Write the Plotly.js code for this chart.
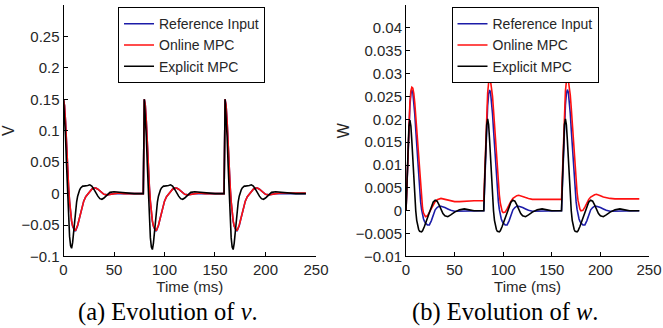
<!DOCTYPE html>
<html><head><meta charset="utf-8">
<script src="https://cdn.plot.ly/plotly-3.0.1.min.js"></script>
<style>html,body{margin:0;padding:0;background:#fff}#chart{width:663px;height:328px}</style>
</head><body><div id="chart"></div>
<script>
// Time axis (ms)
const timeMs = [
 0,1,2,3,4,5,6,7,8,9,10,11,12,13,14,15,16,17,18,19,20,22,24,26,28,30,32,34,36,38,40,43,46,50,55,60,65,70,75,79,
 80,81,82,83,84,85,86,87,88,89,90,91,92,93,94,95,96,97,98,99,100,102,104,106,108,110,112,114,116,118,120,123,126,130,135,140,145,150,155,159,
 160,161,162,163,164,165,166,167,168,169,170,171,172,173,174,175,176,177,178,179,180,182,184,186,188,190,192,194,196,198,200,203,206,210,215,220,225,230,235,240
];
const seriesNames = ['Reference Input','Online MPC','Explicit MPC'];

// Panel (a): v
const vReference = [
 0.150,0.140,0.115,0.074,0.039,0.011,-0.013,-0.031,-0.044,-0.052,-0.057,-0.059,-0.059,-0.056,-0.051,-0.044,-0.037,-0.030,-0.023,-0.017,-0.012,-0.005,-0.001,0.003,0.007,0.009,0.009,0.007,0.004,0.001,-0.001,-0.002,-0.001,0.000,0.000,0.000,0.000,0.000,0.000,0.000,
 0.150,0.140,0.115,0.074,0.039,0.011,-0.013,-0.031,-0.044,-0.052,-0.057,-0.059,-0.059,-0.056,-0.051,-0.044,-0.037,-0.030,-0.023,-0.017,-0.012,-0.005,-0.001,0.003,0.007,0.009,0.009,0.007,0.004,0.001,-0.001,-0.002,-0.001,0.000,0.000,0.000,0.000,0.000,0.000,0.000,
 0.150,0.140,0.115,0.074,0.039,0.011,-0.013,-0.031,-0.044,-0.052,-0.057,-0.059,-0.059,-0.056,-0.051,-0.044,-0.037,-0.030,-0.023,-0.017,-0.012,-0.005,-0.001,0.003,0.007,0.009,0.009,0.007,0.004,0.001,-0.001,-0.002,-0.001,0.000,0.000,0.000,0.000,0.000,0.000,0.000
];
const vOnline = [
 0.150,0.140,0.115,0.075,0.040,0.012,-0.012,-0.030,-0.043,-0.051,-0.056,-0.058,-0.058,-0.055,-0.050,-0.044,-0.037,-0.030,-0.023,-0.017,-0.012,-0.005,-0.001,0.003,0.007,0.009,0.009,0.007,0.004,0.001,-0.001,-0.002,-0.001,0.000,0.001,0.000,0.000,0.000,0.000,0.000,
 0.150,0.140,0.115,0.075,0.040,0.012,-0.012,-0.030,-0.043,-0.051,-0.056,-0.058,-0.058,-0.055,-0.050,-0.044,-0.037,-0.030,-0.023,-0.017,-0.012,-0.005,-0.001,0.003,0.007,0.009,0.009,0.007,0.004,0.001,-0.001,-0.002,-0.001,0.000,0.001,0.000,0.000,0.000,0.000,0.000,
 0.150,0.140,0.115,0.075,0.040,0.012,-0.012,-0.030,-0.043,-0.051,-0.056,-0.058,-0.058,-0.055,-0.050,-0.044,-0.037,-0.030,-0.023,-0.017,-0.012,-0.005,-0.001,0.003,0.007,0.009,0.009,0.007,0.004,0.001,-0.001,-0.002,-0.001,0.000,0.001,0.001,0.001,0.001,0.001,0.001
];
const vExplicit = [
 0.150,0.125,0.090,0.045,0.000,-0.040,-0.068,-0.083,-0.087,-0.078,-0.060,-0.042,-0.026,-0.013,-0.004,0.002,0.006,0.009,0.011,0.012,0.012,0.012,0.013,0.014,0.012,0.007,0.001,-0.004,-0.008,-0.009,-0.007,-0.002,0.002,0.003,0.002,0.001,0.000,0.000,0.000,0.000,
 0.150,0.125,0.090,0.045,0.000,-0.041,-0.070,-0.085,-0.089,-0.079,-0.061,-0.042,-0.026,-0.013,-0.004,0.002,0.006,0.009,0.011,0.012,0.012,0.012,0.013,0.014,0.012,0.007,0.001,-0.004,-0.008,-0.009,-0.007,-0.002,0.002,0.003,0.002,0.001,0.000,0.000,0.000,0.000,
 0.150,0.125,0.090,0.045,0.000,-0.041,-0.070,-0.085,-0.089,-0.079,-0.061,-0.042,-0.026,-0.013,-0.004,0.002,0.006,0.009,0.011,0.012,0.012,0.012,0.013,0.014,0.012,0.007,0.001,-0.004,-0.008,-0.009,-0.007,-0.002,0.002,0.003,0.002,0.001,0.000,0.000,0.000,0.000
];

// Panel (b): w
const wReference = [
 0.0000,0.0060,0.0130,0.0190,0.0230,0.0255,0.0264,0.0258,0.0240,0.0212,0.0178,0.0142,0.0106,0.0073,0.0044,0.0020,0.0003,-0.0009,-0.0018,-0.0023,-0.0027,-0.0031,-0.0031,-0.0022,-0.0009,0.0002,0.0007,0.0010,0.0010,0.0009,0.0007,0.0004,0.0001,-0.0001,-0.0001,0.0000,0.0000,0.0000,0.0000,0.0000,
 0.0000,0.0060,0.0130,0.0190,0.0230,0.0255,0.0264,0.0258,0.0240,0.0212,0.0178,0.0142,0.0106,0.0073,0.0044,0.0020,0.0003,-0.0009,-0.0018,-0.0023,-0.0027,-0.0031,-0.0031,-0.0022,-0.0009,0.0002,0.0007,0.0010,0.0010,0.0009,0.0007,0.0004,0.0001,-0.0001,-0.0001,0.0000,0.0000,0.0000,0.0000,0.0000,
 0.0000,0.0060,0.0130,0.0190,0.0231,0.0256,0.0265,0.0259,0.0241,0.0213,0.0178,0.0142,0.0106,0.0073,0.0044,0.0020,0.0003,-0.0009,-0.0018,-0.0023,-0.0027,-0.0031,-0.0031,-0.0022,-0.0009,0.0002,0.0007,0.0010,0.0010,0.0009,0.0007,0.0004,0.0001,-0.0001,-0.0001,0.0000,0.0000,0.0000,0.0000,0.0000
];
const wOnline = [
 0.0000,0.0060,0.0132,0.0195,0.0238,0.0262,0.0270,0.0268,0.0257,0.0236,0.0207,0.0173,0.0137,0.0102,0.0071,0.0044,0.0022,0.0006,-0.0005,-0.0011,-0.0013,-0.0011,-0.0003,0.0006,0.0014,0.0020,0.0024,0.0026,0.0027,0.0026,0.0025,0.0023,0.0021,0.0020,0.0020,0.0021,0.0022,0.0022,0.0022,0.0022,
 0.0022,0.0082,0.0152,0.0215,0.0258,0.0280,0.0286,0.0283,0.0271,0.0250,0.0221,0.0187,0.0151,0.0116,0.0085,0.0058,0.0035,0.0017,0.0005,-0.0002,-0.0004,-0.0003,0.0004,0.0013,0.0021,0.0027,0.0031,0.0033,0.0034,0.0033,0.0031,0.0029,0.0027,0.0025,0.0025,0.0025,0.0025,0.0025,0.0025,0.0025,
 0.0025,0.0085,0.0156,0.0219,0.0262,0.0283,0.0288,0.0285,0.0273,0.0253,0.0225,0.0191,0.0155,0.0120,0.0089,0.0062,0.0040,0.0022,0.0010,0.0003,0.0000,0.0001,0.0008,0.0017,0.0025,0.0030,0.0033,0.0035,0.0036,0.0035,0.0033,0.0030,0.0028,0.0027,0.0026,0.0026,0.0026,0.0026,0.0026,0.0026
];
const wExplicit = [
 0.0000,0.0070,0.0140,0.0185,0.0198,0.0185,0.0152,0.0110,0.0068,0.0030,0.0000,-0.0021,-0.0034,-0.0041,-0.0045,-0.0046,-0.0046,-0.0044,-0.0040,-0.0034,-0.0028,-0.0015,-0.0002,0.0010,0.0019,0.0023,0.0021,0.0013,0.0003,-0.0006,-0.0011,-0.0013,-0.0009,-0.0003,0.0002,0.0004,0.0002,0.0000,0.0000,0.0000,
 0.0000,0.0071,0.0142,0.0188,0.0201,0.0188,0.0154,0.0111,0.0069,0.0030,0.0000,-0.0021,-0.0034,-0.0041,-0.0045,-0.0046,-0.0046,-0.0044,-0.0040,-0.0034,-0.0028,-0.0015,-0.0002,0.0010,0.0019,0.0023,0.0021,0.0013,0.0003,-0.0006,-0.0011,-0.0013,-0.0009,-0.0003,0.0002,0.0004,0.0002,0.0000,0.0000,0.0000,
 0.0000,0.0071,0.0142,0.0188,0.0201,0.0188,0.0154,0.0111,0.0069,0.0030,0.0000,-0.0021,-0.0034,-0.0041,-0.0045,-0.0046,-0.0046,-0.0044,-0.0040,-0.0034,-0.0028,-0.0015,-0.0002,0.0010,0.0019,0.0023,0.0021,0.0013,0.0003,-0.0006,-0.0011,-0.0013,-0.0009,-0.0003,0.0002,0.0004,0.0002,0.0000,0.0000,0.0000
];

// Tick labels
const xTickVals = [0,50,100,150,200,250];
const xTickText = ['0','50','100','150','200','250'];
const vTickVals = [-0.1,-0.05,0,0.05,0.1,0.15,0.2,0.25];
const vTickText = ['\u22120.1','\u22120.05','0','0.05','0.1','0.15','0.2','0.25'];
const wTickVals = [-0.01,-0.005,0,0.005,0.01,0.015,0.02,0.025,0.03,0.035,0.04];
const wTickText = ['\u22120.01','\u22120.005','0','0.005','0.01','0.015','0.02','0.025','0.03','0.035','0.04'];

const colors = ['#1c1ca8','#ff1010','#000000'];

function mk(y, i, xa, ya, lg) {
  return {x: timeMs, y: y, name: seriesNames[i], type: 'scatter', mode: 'lines',
          xaxis: xa, yaxis: ya, legend: lg,
          line: {color: colors[i], width: 1.6}};
}
const data = [
  mk(vReference,0,'x','y','legend'), mk(vOnline,1,'x','y','legend'), mk(vExplicit,2,'x','y','legend'),
  mk(wReference,0,'x2','y2','legend2'), mk(wOnline,1,'x2','y2','legend2'), mk(wExplicit,2,'x2','y2','legend2')
];

const tickFont = {size:15, color:'#262626'};
const axisBase = {showline:true, linecolor:'#000', linewidth:1, mirror:false, ticks:'inside', ticklen:4,
  tickcolor:'#000', showgrid:false, zeroline:false, tickfont:tickFont};
const yDom = [0.218, 0.9848];

const legendBase = {y:0.978, xanchor:'left', yanchor:'top', bgcolor:'#fff', bordercolor:'#000', borderwidth:1,
     font:{size:14, color:'#262626'}, itemwidth:30, tracegroupgap:0};

const layout = {
  width:663, height:328, margin:{l:0,r:0,t:0,b:0},
  paper_bgcolor:'#fff', plot_bgcolor:'#fff',
  font:{family:'"Liberation Sans", Arial, sans-serif', size:15, color:'#262626'},
  xaxis: Object.assign({}, axisBase, {domain:[0.0958,0.4766], range:[0,250], anchor:'y',
     tickvals:xTickVals, ticktext:xTickText, title:{text:'Time (ms)', standoff:1, font:{size:15}}}),
  yaxis: Object.assign({}, axisBase, {domain:yDom, range:[-0.1,0.3], anchor:'x',
     tickvals:vTickVals, ticktext:vTickText, title:{text:'V', standoff:4, font:{size:16}}}),
  xaxis2: Object.assign({}, axisBase, {domain:[0.6124,0.9789], range:[0,250], anchor:'y2',
     tickvals:xTickVals, ticktext:xTickText, title:{text:'Time (ms)', standoff:1, font:{size:15}}}),
  yaxis2: Object.assign({}, axisBase, {domain:yDom, range:[-0.01,0.045], anchor:'x2',
     tickvals:wTickVals, ticktext:wTickText, title:{text:'W', standoff:2, font:{size:16}}}),
  legend: Object.assign({}, legendBase, {x:0.178}),
  legend2: Object.assign({}, legendBase, {x:0.681}),
  showlegend:true,
  annotations:[
    {text:'(a) Evolution of <i>v</i>.', x:168/663, y:(328-312)/328, xref:'paper', yref:'paper',
     xanchor:'center', yanchor:'middle', showarrow:false,
     font:{family:'"Liberation Serif", "Times New Roman", serif', size:24.5, color:'#000'}},
    {text:'(b) Evolution of <i>w</i>.', x:505/663, y:(328-312)/328, xref:'paper', yref:'paper',
     xanchor:'center', yanchor:'middle', showarrow:false,
     font:{family:'"Liberation Serif", "Times New Roman", serif', size:24.5, color:'#000'}}
  ]
};

Plotly.newPlot('chart', data, layout, {displayModeBar:false, staticPlot:true});
</script></body></html>
